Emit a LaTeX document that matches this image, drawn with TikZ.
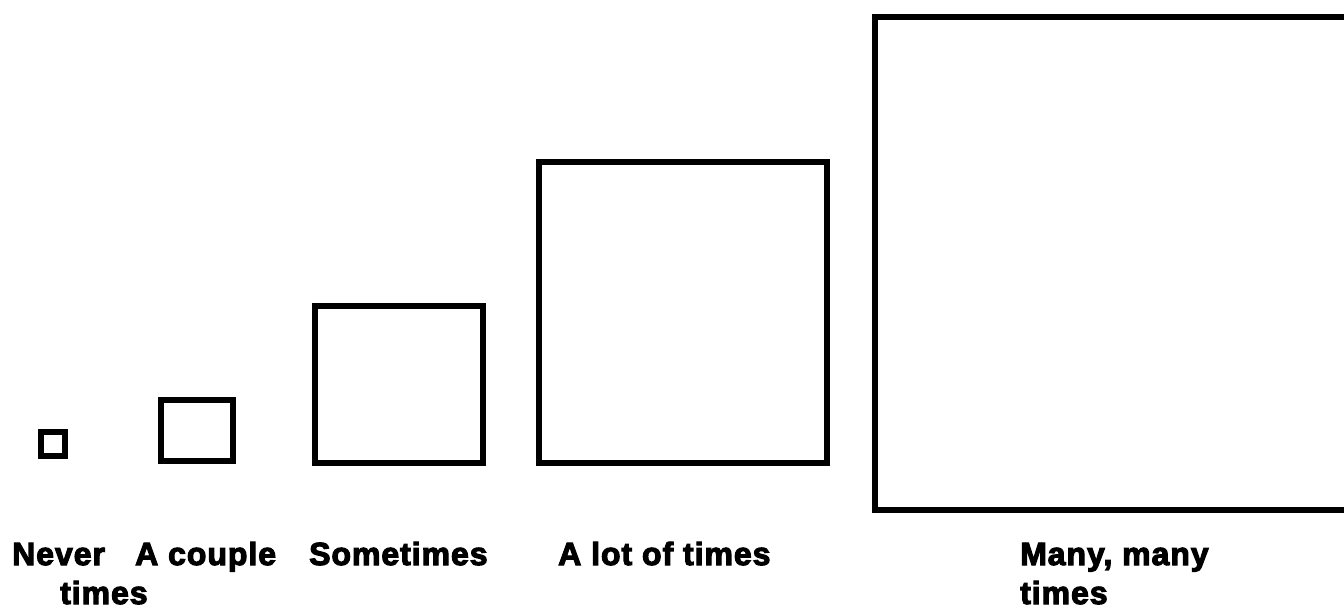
\documentclass[tikz,border=0pt]{standalone}
\usepackage{fontspec}
\usepackage{tikz}
\usetikzlibrary{positioning}
\newfontfamily\labelfont{Liberation Sans Bold}[FakeBold=3.5,LetterSpace=3]
\tikzset{
  box/.style={draw=black,line width=6pt},
  lbl/.style={anchor=base west,inner sep=0pt}
}
\begin{document}
\begin{tikzpicture}[x=1pt,y=-1pt,font=\labelfont\fontsize{32}{38}\selectfont]
  \useasboundingbox (0,0) rectangle (1344,609);
  \clip (0,0) rectangle (1344,609);
  % boxes, growing left to right
  \foreach \xa/\ya/\xb/\yb in {41/432/65/456,161/400/233/461,315/306/483/463,539/162/827/463,875/17/1370/510} {
    \draw[box] (\xa,\ya) rectangle (\xb,\yb);
  }
  % labels
  \node[lbl] (never) at (12,565) {Never};
  \node[lbl] (couple) at (135,565) {A couple};
  \node[lbl] (some) at (309,565) {Sometimes};
  \node[lbl] (lot) at (558,565) {A lot of times};
  \node[lbl] (many) at (1020,565) {Many, many};
  \node[lbl] (nevertimes) at (60,604) {times};
  \node[lbl] (manytimes) at (1020,604) {times};
\end{tikzpicture}
\end{document}
